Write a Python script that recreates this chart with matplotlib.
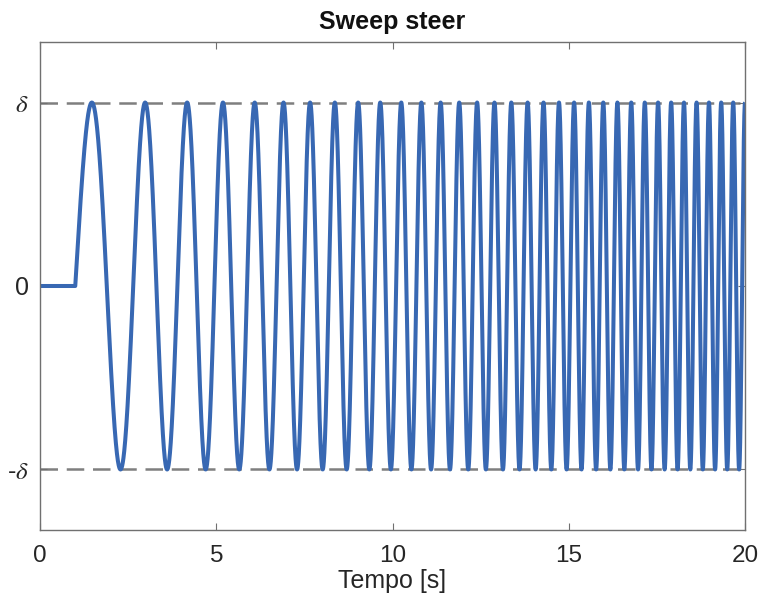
import numpy as np
import matplotlib
matplotlib.use("Agg")
import matplotlib.pyplot as plt

# Sweep parameters
t_start = 1.0      # s, steering begins
t_end = 20.0       # s
f_start = 0.5      # Hz at t_start
f_end = 3.0        # Hz at t_end
delta = 1.0        # amplitude

x_ticks = [0, 5, 10, 15, 20]
y_ticks = [-delta, 0, delta]
y_ticklabels = [r"-$\delta$", "0", r"$\delta$"]

t = np.linspace(0, t_end, 20001)
tau = np.clip(t - t_start, 0, None)
k = (f_end - f_start) / (t_end - t_start)
y = delta * np.sin(2 * np.pi * (f_start * tau + 0.5 * k * tau ** 2))
y[t < t_start] = 0.0

plt.rcParams['mathtext.fontset'] = 'stix'
plt.rcParams['font.family'] = ['Liberation Sans', 'DejaVu Sans']

fig = plt.figure(figsize=(7.59, 6.04), dpi=100)
ax = fig.add_axes([0.0527, 0.1225, 0.9289, 0.808])

dash_kw = dict(color='#7f7f7f', lw=1.8, dashes=(7, 3.5), zorder=1)
ax.axhline(delta, **dash_kw)
ax.axhline(-delta, **dash_kw)
ax.plot(t, y, color='#3868b3', lw=2.9, zorder=2, solid_capstyle='butt')

ax.set_xlim(0, 20)
ax.set_ylim(-1.33, 1.33)
ax.set_xticks(x_ticks)
ax.set_xticklabels([str(v) for v in x_ticks])
ax.set_yticks(y_ticks)
ax.set_yticklabels(y_ticklabels)

for s in ax.spines.values():
    s.set_color('#707070')
    s.set_linewidth(1.0)
ax.tick_params(direction='in', length=5, width=0.8, color='#707070',
               top=True, right=True, labelsize=17.5, labelcolor='#262626')
ax.tick_params(axis='x', pad=11)
ax.tick_params(axis='y', pad=8)
for lab in ax.get_yticklabels():
    lab.set_fontsize(18)

ax.set_xlabel('Tempo [s]', fontsize=18, color='#262626', labelpad=1)
ax.set_title('Sweep steer', fontsize=18, fontweight='bold', color='#111111',
             family=['Liberation Sans Narrow', 'Liberation Sans', 'DejaVu Sans'], pad=9)

fig.savefig('out.png', dpi=100)
